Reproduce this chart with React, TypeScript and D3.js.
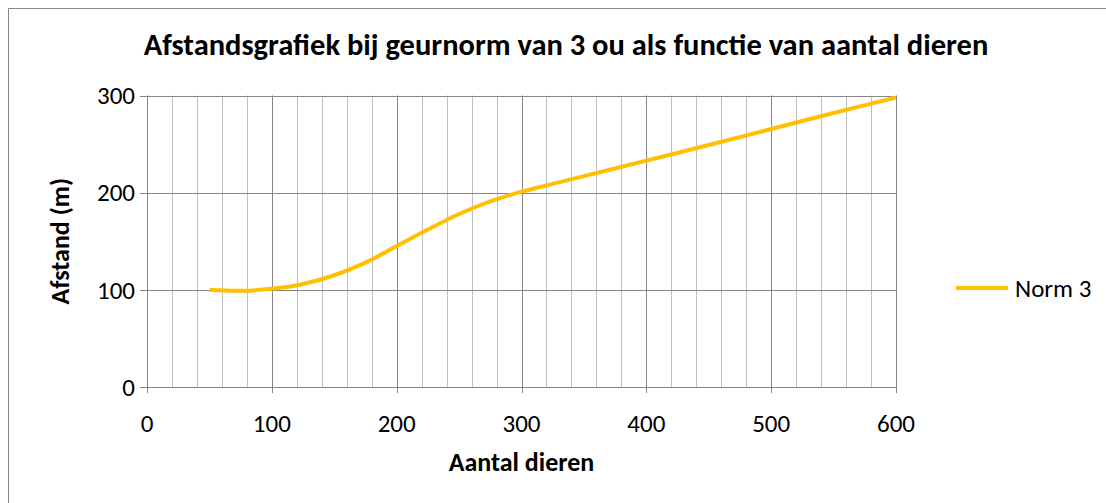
import * as d3 from 'd3'
import React from "react";

// Norm 3 curve
const dieren = [50, 75, 100, 125, 150, 175, 200, 225, 250, 275, 300, 325, 350, 400, 450, 500, 550, 600];
const afstand = [100, 99, 101, 106, 115, 128, 145, 162, 178, 191, 201, 209, 217, 233, 249, 265.5, 282, 298];

const xTicks = [0, 100, 200, 300, 400, 500, 600];
const yTicks = [0, 100, 200, 300];
const minorStep = 20;

const title = "Afstandsgrafiek bij geurnorm van 3 ou als functie van aantal dieren";
const xTitle = "Aantal dieren";
const yTitle = "Afstand (m)";
const seriesName = "Norm 3";

const W = 1106;
const H = 503;
const font = "Calibri, Carlito, 'Liberation Sans', Arial, sans-serif";
const gold = "#ffc000";
const major = "#868686";
const minor = "#bfbfbf";

const App: React.FC = () => {
    const x = d3.scaleLinear().domain([0, 600]).range([147, 896]);
    const y = d3.scaleLinear().domain([0, 300]).range([387, 95.5]);

    const pts = dieren.map((d, i) => [d, afstand[i]] as [number, number]);
    const line = d3.line<[number, number]>()
        .x(d => x(d[0]))
        .y(d => y(d[1]))
        .curve(d3.curveCatmullRom.alpha(0.5));

    const minors = d3.range(0, 601, minorStep).filter(v => v % 100 !== 0);
    const [x0, x1] = x.range();

    return (
        <svg width={W} height={H} style={{ position: 'absolute', left: 0, top: 0 }}>
            <rect x={0} y={0} width={W} height={H} fill="#fff" />
            {/* chart area border, only top and left visible */}
            <path d={`M8.5,${H} V8.5 H${W}`} fill="none" stroke={major} strokeWidth={1} />

            <text x={566} y={55} textAnchor="middle" fontFamily={font} fontWeight="bold" fontSize={30.5} fill="#000">{title}</text>

            {minors.map(v => (
                <line key={'m' + v} x1={Math.round(x(v)) + 0.5} x2={Math.round(x(v)) + 0.5} y1={y(300)} y2={y(0)} stroke={minor} strokeWidth={1} />
            ))}
            {xTicks.filter(v => v > 0).map(v => (
                <line key={'v' + v} x1={Math.round(x(v)) + 0.5} x2={Math.round(x(v)) + 0.5} y1={y(300)} y2={y(0) + 6} stroke={major} strokeWidth={1} />
            ))}
            {yTicks.map(v => (
                <line key={'h' + v} x1={x0 - 7} x2={x1} y1={Math.round(y(v)) + 0.5} y2={Math.round(y(v)) + 0.5} stroke={major} strokeWidth={1} />
            ))}
            <line x1={x0 + 0.5} x2={x0 + 0.5} y1={y(300)} y2={y(0) + 6} stroke={major} strokeWidth={1} />

            {yTicks.map(v => (
                <text key={'yl' + v} x={x0 - 12} y={y(v)} dy="0.35em" textAnchor="end" fontFamily={font} fontSize={25} fill="#000">{v}</text>
            ))}
            {xTicks.map(v => (
                <text key={'xl' + v} x={x(v)} y={432} textAnchor="middle" fontFamily={font} fontSize={25} fill="#000">{v}</text>
            ))}

            <text x={(x0 + x1) / 2} y={471} textAnchor="middle" fontFamily={font} fontWeight="bold" fontSize={26} fill="#000">{xTitle}</text>
            <text transform={`translate(69, ${(y(0) + y(300)) / 2}) rotate(-90)`} textAnchor="middle" fontFamily={font} fontWeight="bold" fontSize={26} fill="#000">{yTitle}</text>

            <path d={line(pts) ?? ''} fill="none" stroke={gold} strokeWidth={4} strokeLinejoin="round" />

            <line x1={956} x2={1008} y1={288} y2={288} stroke={gold} strokeWidth={4} />
            <text x={1015} y={288} dy="0.35em" fontFamily={font} fontSize={25} fill="#000">{seriesName}</text>
        </svg>
    );
}

export default App;
